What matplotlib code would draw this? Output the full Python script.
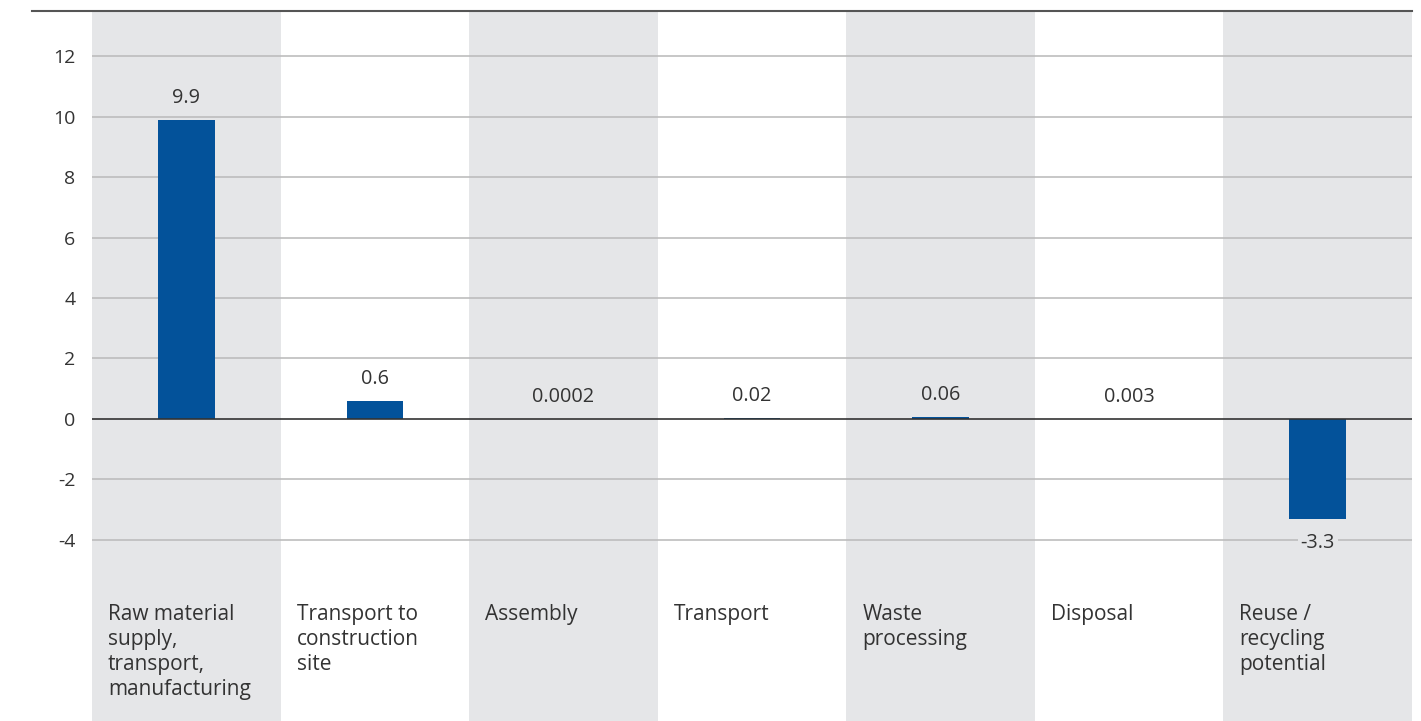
import matplotlib.pyplot as plt
from matplotlib.lines import Line2D

# Chart data
stages = [
    "Raw material\nsupply,\ntransport,\nmanufacturing",
    "Transport to\nconstruction\nsite",
    "Assembly",
    "Transport",
    "Waste\nprocessing",
    "Disposal",
    "Reuse /\nrecycling\npotential",
]
values = [9.9, 0.6, 0.0002, 0.02, 0.06, 0.003, -3.3]
value_labels = ["9.9", "0.6", "0.0002", "0.02", "0.06", "0.003", "-3.3"]
y_ticks = [-4, -2, 0, 2, 4, 6, 8, 10, 12]

BAR_COLOR = "#03529A"
BAND_COLOR = "#E5E6E8"
TEXT_COLOR = "#333333"

plt.rcParams["font.family"] = ["Open Sans", "DejaVu Sans"]

fig = plt.figure(figsize=(14.21, 7.21), dpi=100)
ax = fig.add_axes([92 / 1421, 0, (1412 - 92) / 1421, (721 - 11) / 721])

n = len(stages)
ax.set_xlim(-0.5, n - 0.5)
ax.set_ylim(-10, 13.5)

# alternating column bands
for i in range(n):
    if i % 2 == 0:
        ax.axvspan(i - 0.5, i + 0.5, color=BAND_COLOR, lw=0, zorder=0)

# grid lines only for the tick range
for t in y_ticks:
    if t == 0:
        continue
    ax.axhline(t, color="#BDBDBD", lw=1.2, zorder=1)

x = list(range(n))
ax.bar(x, values, width=0.3, color=BAR_COLOR, zorder=3)
ax.axhline(0, color="#333333", lw=1.2, zorder=4)

# value labels
for i, (v, lab) in enumerate(zip(values, value_labels)):
    bg = BAND_COLOR if i % 2 == 0 else "white"
    off = 22 if v >= 0 else -24
    ax.annotate(lab, (i, v), xytext=(0, off), textcoords="offset pixels",
                ha="center", va="center", fontsize=14.3, color=TEXT_COLOR,
                bbox=dict(facecolor=bg, edgecolor="none", pad=2), zorder=5)

# category labels inside the bands
for i, s in enumerate(stages):
    ax.text(i - 0.5 + 16 / 188.6, -6.13, s, ha="left", va="top",
            fontsize=15, color=TEXT_COLOR, linespacing=1.24, zorder=5)

ax.set_yticks(y_ticks)
ax.set_yticklabels([str(t) for t in y_ticks], fontsize=14, color=TEXT_COLOR)
ax.tick_params(axis="y", length=0, pad=12)
ax.set_xticks([])
for sp in ax.spines.values():
    sp.set_visible(False)

# top rule across the chart
fig.add_artist(Line2D([32 / 1421, 1412 / 1421], [1 - 11 / 721, 1 - 11 / 721],
                      color="#555555", lw=1.5))

fig.savefig("out.png", dpi=100)
